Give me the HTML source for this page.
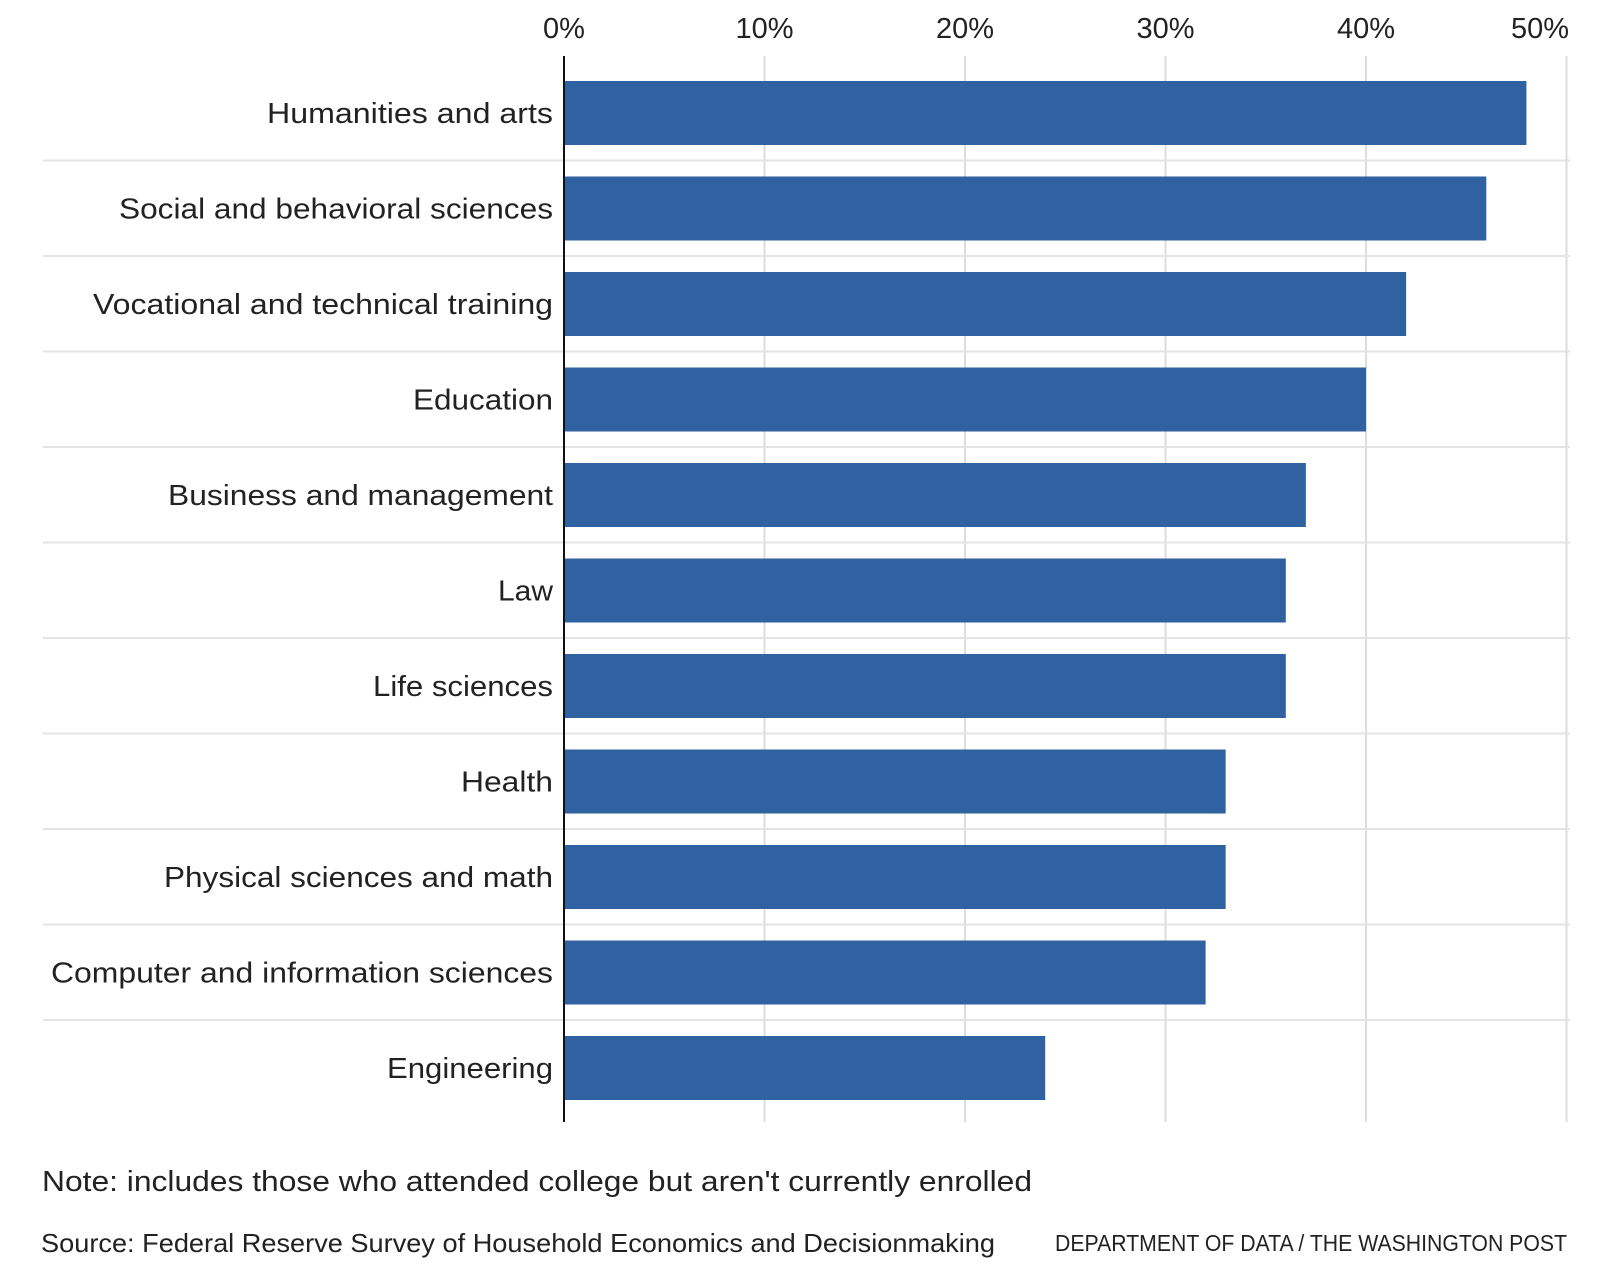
<!DOCTYPE html>
<html><head><meta charset="utf-8"><style>
html,body{margin:0;padding:0;background:#fff;}
svg{display:block;font-family:"Liberation Sans",sans-serif;}
</style></head><body>
<svg id="chart" width="1600" height="1283" viewBox="0 0 1600 1283" xmlns="http://www.w3.org/2000/svg">
<g id="grid"></g>
<g id="bars"></g>
<g id="labels"></g>
<g id="ticks"></g>
<text x="42" y="1191" font-size="29" fill="#222" textLength="990" lengthAdjust="spacingAndGlyphs">Note: includes those who attended college but aren't currently enrolled</text>
<text x="41" y="1252" font-size="26" fill="#222" textLength="954" lengthAdjust="spacingAndGlyphs">Source: Federal Reserve Survey of Household Economics and Decisionmaking</text>
<text x="1055" y="1251" font-size="23" fill="#222" textLength="512" lengthAdjust="spacingAndGlyphs">DEPARTMENT OF DATA / THE WASHINGTON POST</text>
</svg>
<script>
const categories = ["Humanities and arts","Social and behavioral sciences","Vocational and technical training","Education","Business and management","Law","Life sciences","Health","Physical sciences and math","Computer and information sciences","Engineering"];
const values = [48,46,42,40,37,36,36,33,33,32,24];
const tickValues = [0,10,20,30,40,50];
const tickLabels = ["0%","10%","20%","30%","40%","50%"];
const labelWidths = [286,434,460,140,385,55,180,92,389,502,166];

const NS = "http://www.w3.org/2000/svg";
const x0 = 564, pxPer = 20.05;
const xScale = v => x0 + v * pxPer;
const rowTop = 65, pitch = 95.5, barOff = 16, barH = 64;
const yScale = i => rowTop + i * pitch;
function mk(tag, attrs, parent){ const e=document.createElementNS(NS,tag); for(const k in attrs) e.setAttribute(k,attrs[k]); parent.appendChild(e); return e; }
const grid=document.getElementById('grid'), bars=document.getElementById('bars'), labels=document.getElementById('labels'), ticks=document.getElementById('ticks');

tickValues.forEach((t,i)=>{
  if(t>0){
    const gl = mk('line',{x1:xScale(t),x2:xScale(t),y1:56,y2:1122,stroke:'#dddddd','stroke-width':2},grid);
    
    
  }
  const last = i===tickValues.length-1;
  const tx = mk('text',{x: last ? 1569 : xScale(t), y:38,'font-size':29,fill:'#222','text-anchor': last?'end':'middle'},ticks);
  tx.textContent = tickLabels[i];
  
  
});
for(let i=1;i<categories.length;i++){
  const sl = mk('line',{x1:43,x2:1570,y1:yScale(i),y2:yScale(i),stroke:'#e4e4e4','stroke-width':2},grid);
  
  
}
categories.forEach((c,i)=>{
  const r = mk('rect',{x:xScale(0),y:yScale(i)+barOff,width:xScale(values[i])-xScale(0),height:barH,fill:'#3061a1'},bars);
  
  
  const t = mk('text',{x:553,y:yScale(i)+barOff+barH/2+10,'font-size':29,fill:'#222','text-anchor':'end',textLength:labelWidths[i],lengthAdjust:'spacingAndGlyphs'},labels);
  t.textContent = c;
  
  
});
const ax = mk('line',{x1:x0,x2:x0,y1:56,y2:1122,stroke:'#111','stroke-width':2},grid.parentNode);


</script>
</body></html>
